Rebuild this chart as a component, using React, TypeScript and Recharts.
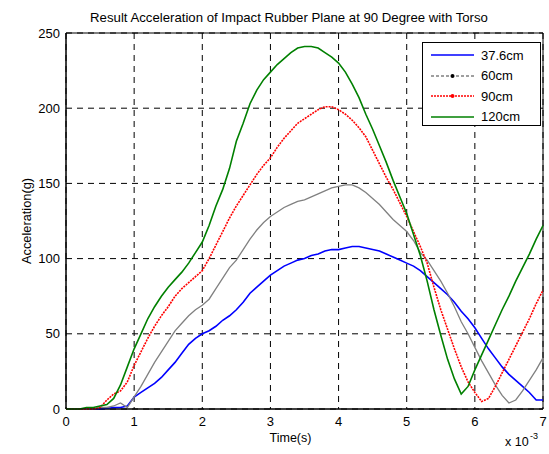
import { LineChart, Line, XAxis, YAxis, CartesianGrid, Legend, ReferenceArea, Label } from 'recharts';

// time axis in units of 1e-3 s
const timeMs = [
  0, 0.1, 0.2, 0.3, 0.4, 0.5, 0.6, 0.7, 0.8, 0.9,
  1.0, 1.1, 1.2, 1.3, 1.4, 1.5, 1.6, 1.7, 1.8, 1.9,
  2.0, 2.1, 2.2, 2.3, 2.4, 2.5, 2.6, 2.7, 2.8, 2.9,
  3.0, 3.1, 3.2, 3.3, 3.4, 3.5, 3.6, 3.7, 3.8, 3.9,
  4.0, 4.1, 4.2, 4.3, 4.4, 4.5, 4.6, 4.7, 4.8, 4.9,
  5.0, 5.1, 5.2, 5.3, 5.4, 5.5, 5.6, 5.7, 5.8, 5.9,
  6.0, 6.1, 6.2, 6.3, 6.4, 6.5, 6.6, 6.7, 6.8, 6.9,
  7.0,
];

const acc376 = [
  0, 0, 0, 0, 0, 0, 0.5, 1, 1, 2,
  8, 11, 14, 17, 21, 26, 31, 37, 43, 47,
  50, 52, 55, 59, 62, 66, 71, 77, 81, 85,
  89, 92, 95, 97, 99, 100, 102, 103, 105, 106,
  106, 107, 108, 108, 107, 106, 105, 103, 101, 99,
  97, 95, 92, 88, 84, 80, 76, 71, 65, 60,
  54, 47, 40, 34, 28, 23, 19, 15, 11, 6,
  6,
];

const acc60 = [
  0, 0, 0, 0, 0, 1, 1, 2, 4, 1,
  8, 15, 23, 31, 38, 45, 52, 57, 62, 66,
  69, 73, 80, 87, 94, 99, 106, 113, 119, 124,
  128, 131, 134, 136, 138, 139, 141, 143, 145, 147,
  148, 149, 149, 147, 144, 140, 136, 131, 126, 122,
  118, 112, 104, 99, 92, 85, 77, 68, 58, 50,
  41, 32, 24, 16, 9, 4, 6, 12, 19, 26,
  34,
];

const acc90 = [
  0, 0, 0, 0, 0, 1, 6, 10, 12, 18,
  29, 38, 47, 55, 62, 68, 75, 80, 84, 88,
  92, 100, 109, 118, 127, 135, 142, 149, 156, 162,
  167, 174, 180, 185, 190, 193, 196, 199, 201, 201,
  199, 196, 192, 187, 181, 172, 163, 154, 146, 137,
  128, 118, 108, 97, 81, 66, 53, 40, 28, 18,
  11, 5, 7, 15, 24, 33, 42, 51, 60, 70,
  79,
];

const acc120 = [
  0, 0, 0, 1, 1, 2, 3, 7, 16, 28,
  40, 50, 60, 68, 75, 81, 86, 91, 97, 104,
  111, 122, 135, 146, 160, 178, 190, 203, 212, 219,
  224, 229, 233, 237, 240, 241, 241, 240, 237, 234,
  230, 224, 216, 207, 196, 186, 175, 164, 152, 141,
  130, 116, 102, 85, 66, 49, 33, 20, 10, 15,
  26, 36, 46, 56, 66, 75, 85, 94, 103, 113,
  122,
];

const seriesNames = ['37.6cm', '60cm', '90cm', '120cm'];
const xTicks = [0, 1, 2, 3, 4, 5, 6, 7];
const yTicks = [0, 50, 100, 150, 200, 250];

const data = timeMs.map((t, i) => ({
  t,
  a: acc376[i],
  b: acc60[i],
  c: acc90[i],
  d: acc120[i],
}));

const FONT = '"Liberation Sans", Arial, sans-serif';

const LegendBox = () => {
  const rows = [
    { color: '#0000ff', dash: undefined, dot: null },
    { color: '#808080', dash: '3 2', dot: '#000' },
    { color: '#ff0000', dash: '2 1', dot: '#ff0000' },
    { color: '#008000', dash: undefined, dot: null },
  ];
  return (
    <div
      style={{
        width: 119,
        height: 84,
        border: '1px solid #000',
        background: '#fff',
        fontFamily: FONT,
        fontSize: 13,
        paddingTop: 2,
        boxSizing: 'border-box',
      }}
    >
      {rows.map((r, i) => (
        <div key={seriesNames[i]} style={{ display: 'flex', alignItems: 'center', height: 20.5 }}>
          <svg width={58} height={10}>
            <line x1={8} y1={5} x2={51} y2={5} stroke={r.color} strokeWidth={1.5} strokeDasharray={r.dash} />
            {r.dot && <circle cx={29.5} cy={5} r={2} fill={r.dot} />}
          </svg>
          <span style={{ color: '#000' }}>{seriesNames[i]}</span>
        </div>
      ))}
    </div>
  );
};

const XLabel = ({ viewBox }: any) => {
  const { x, y, width } = viewBox;
  return (
    <g fontFamily={FONT} fill="#000">
      <text x={x + width / 2 - 14} y={y + 33} textAnchor="middle" fontSize={12.5}>Time(s)</text>
      <text x={x + width - 38} y={y + 37} fontSize={12.5}>x 10</text>
      <text x={x + width - 13} y={y + 30} fontSize={9}>-3</text>
    </g>
  );
};

const App = () => {
  return (
    <div style={{ position: 'absolute', left: 0, top: 0, width: 549, height: 454, background: '#fff' }}>
      <LineChart
        width={549}
        height={454}
        data={data}
        margin={{ top: 33, right: 6, bottom: 0, left: 0 }}
        style={{ fontFamily: FONT }}
      >
        <text x={289} y={22} textAnchor="middle" fontSize={13.2} fontFamily={FONT} fill="#000">
          Result Acceleration of Impact Rubber Plane at 90 Degree with Torso
        </text>
        <CartesianGrid stroke="#000" strokeDasharray="6 5" strokeWidth={1} />
        <XAxis
          dataKey="t"
          type="number"
          domain={[0, 7]}
          ticks={xTicks}
          height={45}
          stroke="#000"
          tickLine={false}
          tick={{ fill: '#000', fontSize: 13 }}
        >
          <Label content={<XLabel />} />
        </XAxis>
        <YAxis
          type="number"
          domain={[0, 250]}
          ticks={yTicks}
          width={66}
          stroke="#000"
          tickLine={false}
          tickSize={4}
          tickMargin={2}
          tick={{ fill: '#000', fontSize: 13 }}
        >
          <Label
            value="Acceleration(g)"
            angle={-90}
            position="insideLeft"
            offset={26}
            style={{ fill: '#000', fontSize: 12.8, textAnchor: 'middle' }}
          />
        </YAxis>
        <ReferenceArea x1={0} x2={7} y1={0} y2={250} fill="none" fillOpacity={0} stroke="#000" strokeWidth={1} />
        <Line type="linear" dataKey="a" name={seriesNames[0]} stroke="#0000ff" strokeWidth={1.6} dot={false} isAnimationActive={false} />
        <Line type="linear" dataKey="b" name={seriesNames[1]} stroke="#808080" strokeWidth={1.3} dot={false} isAnimationActive={false} />
        <Line type="linear" dataKey="c" name={seriesNames[2]} stroke="#ff0000" strokeWidth={1.6} strokeDasharray="2 1" dot={false} isAnimationActive={false} />
        <Line type="linear" dataKey="d" name={seriesNames[3]} stroke="#008000" strokeWidth={1.6} dot={false} isAnimationActive={false} />
        <Legend
          layout="vertical"
          align="center"
          verticalAlign="middle"
          content={<LegendBox />}
          wrapperStyle={{ top: 42, left: 422, width: 119, height: 84 }}
        />
      </LineChart>
    </div>
  );
};

export default App;
